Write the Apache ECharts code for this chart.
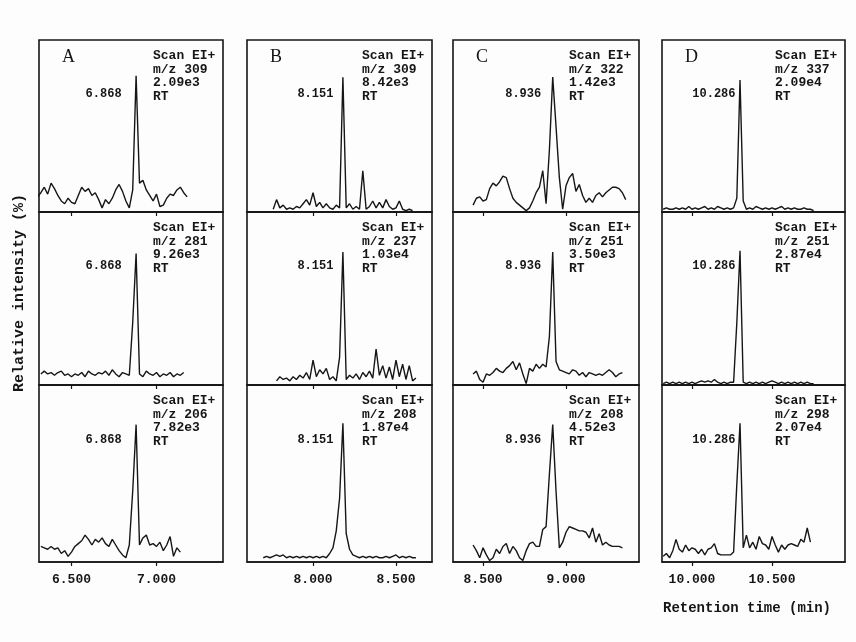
<!DOCTYPE html>
<html>
<head>
<meta charset="utf-8">
<script src="https://cdn.jsdelivr.net/npm/echarts@6/dist/echarts.min.js"></script>
<style>
  html, body { margin: 0; padding: 0; background: #fdfdfd; }
  #chart { width: 856px; height: 642px; }
</style>
</head>
<body>
<div id="chart"></div>
<script>
// retention time grids (min), one per column
var timeA = [6.30, 6.32, 6.34, 6.36, 6.38, 6.40, 6.42, 6.44, 6.46, 6.48, 6.50, 6.52, 6.54, 6.56, 6.58, 6.60, 6.62, 6.64, 6.66, 6.68, 6.70, 6.72, 6.74, 6.76, 6.78, 6.80, 6.82, 6.84, 6.86, 6.88, 6.90, 6.92, 6.94, 6.96, 6.98, 7.00, 7.02, 7.04, 7.06, 7.08, 7.10, 7.12, 7.14, 7.16, 7.18];
var timeB = [7.70, 7.72, 7.74, 7.76, 7.78, 7.80, 7.82, 7.84, 7.86, 7.88, 7.90, 7.92, 7.94, 7.96, 7.98, 8.00, 8.02, 8.04, 8.06, 8.08, 8.10, 8.12, 8.14, 8.16, 8.18, 8.20, 8.22, 8.24, 8.26, 8.28, 8.30, 8.32, 8.34, 8.36, 8.38, 8.40, 8.42, 8.44, 8.46, 8.48, 8.50, 8.52, 8.54, 8.56, 8.58, 8.60, 8.62, 8.64];
var timeC = [8.42, 8.44, 8.46, 8.48, 8.50, 8.52, 8.54, 8.56, 8.58, 8.60, 8.62, 8.64, 8.66, 8.68, 8.70, 8.72, 8.74, 8.76, 8.78, 8.80, 8.82, 8.84, 8.86, 8.88, 8.90, 8.92, 8.94, 8.96, 8.98, 9.00, 9.02, 9.04, 9.06, 9.08, 9.10, 9.12, 9.14, 9.16, 9.18, 9.20, 9.22, 9.24, 9.26, 9.28, 9.30, 9.32, 9.34, 9.36];
var timeD = [9.82, 9.84, 9.86, 9.88, 9.90, 9.92, 9.94, 9.96, 9.98, 10.00, 10.02, 10.04, 10.06, 10.08, 10.10, 10.12, 10.14, 10.16, 10.18, 10.20, 10.22, 10.24, 10.26, 10.28, 10.30, 10.32, 10.34, 10.36, 10.38, 10.40, 10.42, 10.44, 10.46, 10.48, 10.50, 10.52, 10.54, 10.56, 10.58, 10.60, 10.62, 10.64, 10.66, 10.68, 10.70, 10.72, 10.74, 10.76];

// relative intensity (%) of each ion trace
var intA1 = [11, 14, 18, 13, 21, 17, 12, 8, 6, 10, 7, 6, 12, 18, 15, 17, 12, 14, 9, 3, 9, 6, 10, 16, 20, 15, 8, 3, 16, 99, 21, 23, 16, 12, 8, 13, 4, 5, 10, 13, 12, 16, 18, 14, 11];
var intA2 = [null, 8, 10, 8, 9, 7, 9, 10, 7, 8, 6, 8, 7, 9, 6, 10, 8, 7, 9, 8, 10, 7, 11, 8, 6, 9, 8, 7, 45, 95, 8, 6, 10, 8, 7, 9, 6, 8, 7, 9, 6, 8, 7, 9, null];
var intA3 = [null, 11, 10, 9, 11, 9, 10, 6, 8, 4, 7, 11, 13, 15, 19, 16, 12, 16, 14, 17, 13, 11, 16, 12, 8, 5, 3, 12, 50, 97, 12, 17, 19, 12, 13, 11, 14, 8, 12, 18, 4, 10, 7, null, null];

var intB1 = [null, null, null, 2, 9, 3, 5, 2, 3, 2, 4, 3, 6, 9, 5, 14, 4, 7, 3, 6, 3, 2, 5, 3, 98, 3, 6, 2, 4, 2, 30, 2, 4, 8, 3, 7, 3, 9, 4, 2, 3, 8, 2, 1, 2, 1, null, null];
var intB2 = [null, null, null, null, 3, 6, 4, 5, 3, 6, 4, 7, 5, 9, 4, 18, 6, 11, 8, 12, 4, 6, 3, 20, 96, 4, 7, 5, 8, 4, 9, 6, 10, 5, 26, 7, 14, 5, 13, 4, 18, 6, 15, 4, 14, 3, 5, null];
var intB3 = [3, 4, 3, 4, 5, 4, 5, 3, 4, 3, 4, 3, 4, 3, 4, 3, 4, 3, 4, 3, 6, 10, 22, 45, 98, 20, 9, 5, 4, 3, 4, 3, 4, 3, 4, 3, 3, 4, 3, 4, 5, 3, 4, 3, 4, 3, 3, null];

var intC1 = [null, 5, 10, 11, 8, 9, 17, 21, 19, 22, 26, 25, 17, 10, 7, 5, 3, 1, 3, 8, 14, 18, 30, 6, 45, 98, 62, 25, 2, 19, 25, 28, 15, 20, 12, 7, 10, 7, 12, 14, 11, 14, 16, 18, 18, 17, 14, 9];
var intC2 = [null, 8, 10, 4, 2, 8, 7, 9, 12, 10, 9, 12, 14, 17, 11, 16, 8, 1, 12, 10, 15, 12, 15, 13, 35, 96, 17, 11, 10, 9, 8, 11, 10, 7, 9, 6, 9, 8, 7, 8, 7, 9, 11, 9, 6, 8, 9, null];
var intC3 = [null, 12, 8, 3, 10, 5, 1, 3, 9, 6, 11, 13, 6, 11, 8, 3, 1, 8, 13, 14, 11, 11, 23, 25, 62, 97, 50, 10, 14, 21, 25, 24, 23, 22, 22, 21, 17, 24, 14, 20, 12, 14, 12, 11, 11, 11, 10, null];

var intD1 = [2, 3, 2, 2, 3, 2, 3, 2, 4, 2, 3, 2, 3, 4, 2, 3, 2, 4, 3, 2, 3, 2, 3, 10, 96, 8, 2, 3, 2, 4, 3, 2, 3, 2, 3, 2, 3, 4, 2, 3, 2, 3, 2, 2, 3, 2, 2, 1];
var intD2 = [1, 2, 1, 2, 1, 2, 1, 2, 1, 2, 1, 2, 3, 2, 3, 2, 4, 2, 1, 2, 1, 2, 2, 45, 97, 2, 1, 2, 1, 2, 1, 2, 1, 2, 3, 2, 1, 2, 1, 2, 1, 2, 1, 2, 1, 2, 1, 1];
var intD3 = [4, 6, 3, 8, 16, 9, 7, 12, 8, 10, 9, 6, 9, 5, 9, 10, 13, 6, 5, 5, 5, 5, 7, 55, 98, 10, 19, 10, 14, 9, 18, 13, 12, 9, 18, 12, 7, 12, 9, 12, 13, 12, 11, 16, 14, 24, 14, null];

// labels
var columnLetters = ['A', 'B', 'C', 'D'];
var rtLabels = ['6.868', '8.151', '8.936', '10.286'];
var massValues = [['309', '281', '206'], ['309', '237', '208'], ['322', '251', '208'], ['337', '251', '298']];
var scaleValues = [['2.09e3', '9.26e3', '7.82e3'], ['8.42e3', '1.03e4', '1.87e4'], ['1.42e3', '3.50e3', '4.52e3'], ['2.09e4', '2.87e4', '2.07e4']];
var xTicks = [[6.5, 7.0], [8.0, 8.5], [8.5, 9.0], [10.0, 10.5]];

(function () {
    var myChart = echarts.init(document.getElementById('chart'));

    var columnTimes = [timeA, timeB, timeC, timeD];
    var panels = [[intA1, intA2, intA3], [intB1, intB2, intB3], [intC1, intC2, intC3], [intD1, intD2, intD3]];

    // layout of the 4 x 3 panel boxes
    var colLeft = [39, 247, 453, 662];
    var colRight = [223, 432, 639, 845];
    var xRanges = [[6.309, 7.391], [7.602, 8.717], [8.319, 9.44], [9.8125, 10.956]];
    var rowTop = [40, 212, 385];
    var rowHeight = [172, 173, 177];
    var labelGap = [14, 9, 11, 4];

    var ink = '#161616';
    var mono = '"Liberation Mono", "DejaVu Sans Mono", monospace';

    var grids = [], xAxes = [], yAxes = [], series = [], graphics = [];

    for (var c = 0; c < 4; c++) {
        for (var r = 0; r < 3; r++) {
            var idx = grids.length;
            grids.push({
                left: colLeft[c], top: rowTop[r],
                width: colRight[c] - colLeft[c], height: rowHeight[r],
                show: true, borderColor: ink, borderWidth: 1.6
            });
            xAxes.push({
                gridIndex: idx, type: 'value',
                min: xRanges[c][0], max: xRanges[c][1],
                axisLine: { show: true, onZero: false, lineStyle: { color: ink, width: 1.6 } },
                axisTick: { show: true, customValues: xTicks[c], length: 4, lineStyle: { color: ink, width: 1.2 } },
                axisLabel: {
                    show: r === 2, customValues: xTicks[c], margin: 11,
                    fontFamily: mono, fontSize: 13, fontWeight: 'bold', color: ink,
                    formatter: function (v) { return v.toFixed(3); }
                },
                splitLine: { show: false }
            });
            yAxes.push({ gridIndex: idx, type: 'value', min: 0, max: 125, show: false });

            var times = columnTimes[c], vals = panels[c][r];
            var pts = [], peakT = null, best = -1;
            for (var i = 0; i < times.length; i++) {
                if (vals[i] === null) continue;
                pts.push([times[i], vals[i]]);
                if (vals[i] > best) { best = vals[i]; peakT = times[i]; }
            }
            series.push({
                type: 'line', xAxisIndex: idx, yAxisIndex: idx,
                data: pts, symbol: 'none', animation: false,
                lineStyle: { color: ink, width: 1.4 },
                markPoint: {
                    symbol: 'circle', symbolSize: 1, silent: true, animation: false,
                    itemStyle: { color: 'rgba(0,0,0,0)' },
                    label: {
                        show: true, position: 'left', distance: labelGap[c],
                        formatter: rtLabels[c], color: ink,
                        fontFamily: mono, fontSize: 12, fontWeight: 'bold'
                    },
                    data: [{ coord: [peakT, 86] }]
                }
            });

            graphics.push({
                type: 'text', left: colRight[c] - 70, top: rowTop[r] + 9,
                style: {
                    text: 'Scan EI+\nm/z ' + massValues[c][r] + '\n' + scaleValues[c][r] + '\nRT',
                    font: 'bold 13px ' + mono, fill: ink, lineHeight: 13.5
                }
            });
        }
        graphics.push({
            type: 'text', left: colLeft[c] + 23, top: rowTop[0] + 8,
            style: { text: columnLetters[c], font: '18px "Liberation Serif", serif', fill: ink }
        });
    }

    graphics.push({
        type: 'text', x: 19, y: 293, rotation: Math.PI / 2,
        style: {
            text: 'Relative intensity (%)', font: 'bold 15px ' + mono, fill: ink,
            align: 'center', verticalAlign: 'middle'
        }
    });
    graphics.push({
        type: 'text', x: 747, y: 608,
        style: {
            text: 'Retention time (min)', font: 'bold 14px ' + mono, fill: ink,
            align: 'center', verticalAlign: 'middle'
        }
    });

    var option = {
        backgroundColor: '#fdfdfd',
        animation: false,
        grid: grids,
        xAxis: xAxes,
        yAxis: yAxes,
        series: series,
        graphic: graphics
    };

    myChart.setOption(option);
    window.addEventListener('resize', function () {
        myChart.resize();
    });
})();
</script>
</body>
</html>
